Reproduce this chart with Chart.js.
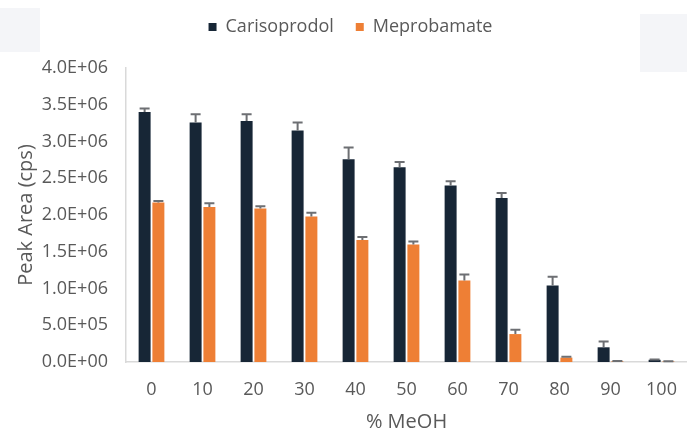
<!DOCTYPE html>
<html>
<head>
<meta charset="utf-8">
<script src="https://cdn.jsdelivr.net/npm/chart.js@4"></script>
<style>
  html, body { margin: 0; padding: 0; background: #fff; }
  #wrap { position: relative; width: 687px; height: 429px; }
  .smudge { position: absolute; background: #f4f5f8; }
</style>
</head>
<body>
<div id="wrap">
  <div class="smudge" style="left:0;top:8px;width:40px;height:44px"></div>
  <div class="smudge" style="left:640px;top:14px;width:47px;height:58px"></div>
  <canvas id="myChart" width="687" height="429" style="position:relative"></canvas>
</div>
<script>
const categories = ['0', '10', '20', '30', '40', '50', '60', '70', '80', '90', '100'];
const carisoprodol = [3.40e6, 3.26e6, 3.28e6, 3.15e6, 2.76e6, 2.65e6, 2.40e6, 2.23e6, 1.04e6, 0.20e6, 0.03e6];
const carisoprodolErr = [0.05e6, 0.11e6, 0.09e6, 0.11e6, 0.16e6, 0.07e6, 0.06e6, 0.07e6, 0.12e6, 0.08e6, 0.005e6];
const meprobamate = [2.17e6, 2.11e6, 2.09e6, 1.98e6, 1.66e6, 1.60e6, 1.11e6, 0.38e6, 0.06e6, 0.01e6, 0.008e6];
const meprobamateErr = [0.02e6, 0.05e6, 0.03e6, 0.05e6, 0.04e6, 0.04e6, 0.08e6, 0.06e6, 0.01e6, 0.003e6, 0.002e6];
const yTicks = [0, 5e5, 1e6, 1.5e6, 2e6, 2.5e6, 3e6, 3.5e6, 4e6];

function sci(v) {
  const [m, e] = v.toExponential(1).split('e');
  const n = parseInt(e, 10);
  return m + 'E' + (n < 0 ? '-' : '+') + String(Math.abs(n)).padStart(2, '0');
}

// upward-only error bars with a cap, like the original
const errorBars = {
  id: 'errorBars',
  afterDatasetsDraw(chart) {
    const ctx = chart.ctx;
    const y = chart.scales.y;
    ctx.save();
    ctx.strokeStyle = '#6d6f73';
    ctx.lineWidth = 2;
    chart.data.datasets.forEach((ds, i) => {
      const meta = chart.getDatasetMeta(i);
      meta.data.forEach((bar, j) => {
        const top = y.getPixelForValue(ds.data[j] + ds.errors[j]);
        ctx.beginPath();
        ctx.moveTo(bar.x, bar.y);
        ctx.lineTo(bar.x, top);
        ctx.moveTo(bar.x - 5, top);
        ctx.lineTo(bar.x + 5, top);
        ctx.stroke();
      });
    });
    ctx.restore();
  }
};

// extra room under the legend
const legendGap = {
  id: 'legendGap',
  beforeInit(chart) {
    const fit = chart.legend.fit;
    chart.legend.fit = function () {
      fit.bind(chart.legend)();
      this.height += 22;
    };
  }
};

const ctx = document.getElementById('myChart').getContext('2d');
new Chart(ctx, {
  type: 'bar',
  data: {
    labels: categories,
    datasets: [
      { label: 'Carisoprodol', data: carisoprodol, errors: carisoprodolErr, backgroundColor: '#172636' },
      { label: 'Meprobamate', data: meprobamate, errors: meprobamateErr, backgroundColor: '#ee7f35' }
    ]
  },
  options: {
    responsive: false,
    animation: false,
    categoryPercentage: 0.54,
    barPercentage: 0.87,
    layout: { padding: { left: 14, right: 0, top: -4, bottom: 0 } },
    plugins: {
      tooltip: { enabled: false },
      legend: {
        position: 'top',
        labels: {
          boxWidth: 8, boxHeight: 8, padding: 22,
          color: '#595959',
          font: { family: 'Open Sans', size: 18 }
        }
      }
    },
    scales: {
      x: {
        afterFit(axis) { axis.height = 67; axis.paddingLeft = 0; axis.paddingRight = 0; },
        grid: { display: false, drawTicks: false },
        border: { color: '#d9d9d9', width: 1.5 },
        ticks: { color: '#595959', padding: 17, font: { family: 'Open Sans', size: 18 } },
        title: { display: true, text: '% MeOH', color: '#595959', padding: { top: 0, bottom: 0 }, font: { family: 'Open Sans', size: 20, lineHeight: 0.7 } }
      },
      y: {
        min: 0, max: 4e6,
        afterBuildTicks(axis) { axis.ticks = yTicks.map(v => ({ value: v })); },
        afterFit(axis) { axis.width = 112; },
        grid: { display: false, drawTicks: false },
        border: { color: '#d9d9d9', width: 1.5 },
        ticks: { color: '#595959', padding: 18, font: { family: 'Open Sans', size: 18 }, callback: v => sci(v) },
        title: { display: true, text: 'Peak Area (cps)', color: '#595959', padding: { top: 0, bottom: 0 }, font: { family: 'Open Sans', size: 20 } }
      }
    }
  },
  plugins: [errorBars, legendGap]
});
</script>
</body>
</html>
